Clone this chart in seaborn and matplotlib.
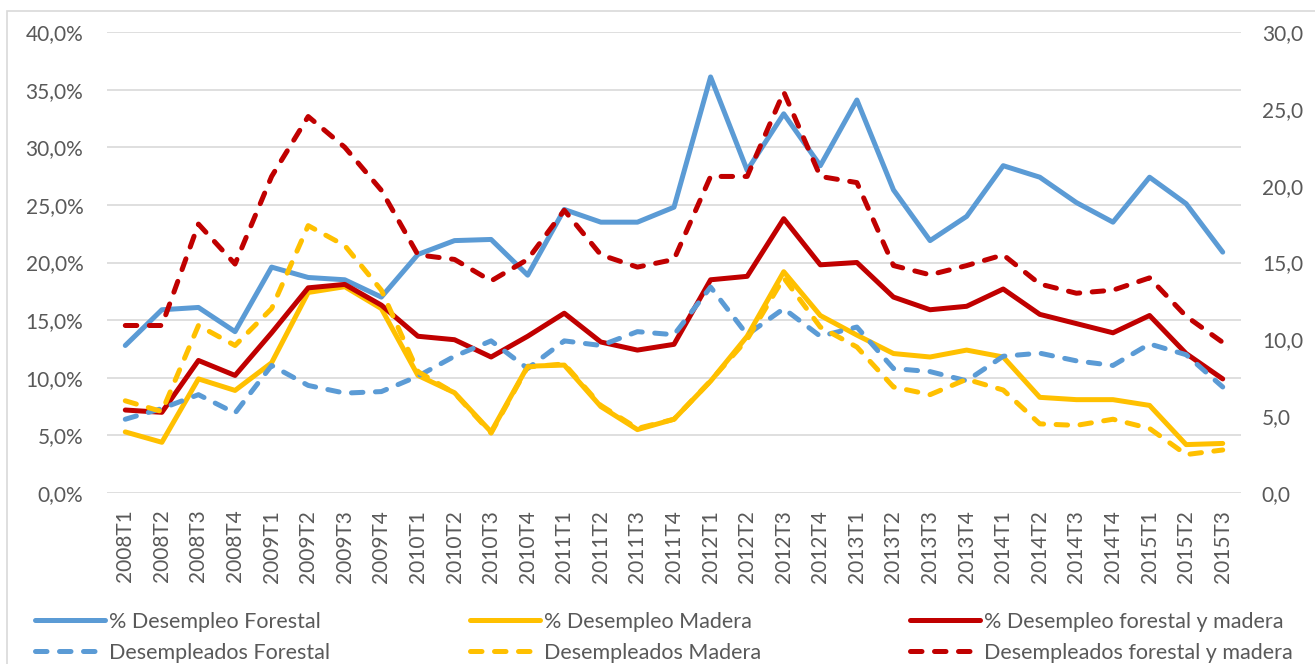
import numpy as np
import pandas as pd
import seaborn as sns
import matplotlib.pyplot as plt
from matplotlib.ticker import FuncFormatter, MultipleLocator
from matplotlib.patches import Rectangle

# periods (quarters)
periodos = [f"{y}T{q}" for y in range(2008, 2016) for q in range(1, 5)][:31]

# % unemployment (left axis)
pct_forestal = [12.8, 15.9, 16.1, 14.0, 19.6, 18.7, 18.5, 17.0, 20.7, 21.9, 22.0,
                18.9, 24.6, 23.5, 23.5, 24.8, 36.1, 28.0, 32.9, 28.4, 34.1,
                26.3, 21.9, 24.0, 28.4, 27.4, 25.2, 23.5, 27.4, 25.1, 20.9]
pct_madera = [5.3, 4.4, 9.9, 8.9, 11.3, 17.4, 17.9, 16.0, 10.2, 8.7, 5.3,
              11.0, 11.1, 7.5, 5.5, 6.4, 9.7, 13.6, 19.2, 15.4, 13.7,
              12.1, 11.8, 12.4, 11.8, 8.3, 8.1, 8.1, 7.6, 4.2, 4.3]
pct_fym = [7.2, 7.0, 11.5, 10.2, 13.9, 17.8, 18.1, 16.3, 13.6, 13.3, 11.8,
           13.6, 15.6, 13.1, 12.4, 12.9, 18.5, 18.8, 23.8, 19.8, 20.0,
           17.0, 15.9, 16.2, 17.7, 15.5, 14.7, 13.9, 15.4, 12.1, 9.9]

# unemployed, thousands (right axis)
des_forestal = [4.8, 5.5, 6.4, 5.2, 8.3, 7.0, 6.5, 6.6, 7.6, 8.9, 9.9,
                8.1, 9.9, 9.6, 10.5, 10.3, 13.4, 10.3, 12.0, 10.2, 10.8,
                8.1, 7.9, 7.3, 8.9, 9.1, 8.6, 8.3, 9.7, 9.0, 6.9]
des_madera = [6.0, 5.3, 10.9, 9.6, 12.0, 17.4, 16.1, 13.2, 7.9, 6.5, 3.9,
              8.2, 8.4, 5.7, 4.2, 4.8, 7.3, 10.0, 14.0, 10.8, 9.5,
              6.9, 6.4, 7.4, 6.7, 4.5, 4.4, 4.8, 4.2, 2.5, 2.8]
des_fym = [10.9, 10.9, 17.5, 14.9, 20.6, 24.5, 22.5, 19.7, 15.5, 15.2, 13.8,
           15.2, 18.4, 15.5, 14.7, 15.2, 20.6, 20.6, 26.1, 20.6, 20.2,
           14.8, 14.2, 14.8, 15.5, 13.6, 13.0, 13.2, 14.0, 11.5, 9.8]

df = pd.DataFrame({
    "periodo": periodos,
    "pct_forestal": pct_forestal, "pct_madera": pct_madera, "pct_fym": pct_fym,
    "des_forestal": des_forestal, "des_madera": des_madera, "des_fym": des_fym,
})

sns.set_theme(style="white")
plt.rcParams['font.family'] = ['Lato', 'DejaVu Sans']

AZUL, AMARILLO, ROJO = "#5B9BD5", "#FFC000", "#C00000"
GRIS_TXT = "#595959"
LW = 3.6
DASH = (0, (2.3, 2.5))
FS_TICK = 15
FS_LEG = 15.5

fig = plt.figure(figsize=(13.15, 6.64), dpi=100)
W, H = 1315, 664
ax = fig.add_axes([107 / W, 1 - 493 / H, (1241 - 107) / W, (493 - 32) / H])
ax2 = ax.twinx()

series_izq = [("pct_forestal", AZUL, "% Desempleo Forestal"),
              ("pct_madera", AMARILLO, "% Desempleo Madera"),
              ("pct_fym", ROJO, "% Desempleo forestal y madera")]
series_der = [("des_forestal", AZUL, "Desempleados Forestal"),
              ("des_madera", AMARILLO, "Desempleados Madera"),
              ("des_fym", ROJO, "Desempleados forestal y madera")]

for col, c, lab in series_izq:
    sns.lineplot(data=df, x="periodo", y=col, ax=ax, color=c, linewidth=LW,
                 label=lab, errorbar=None, legend=False, sort=False)
for col, c, lab in series_der:
    sns.lineplot(data=df, x="periodo", y=col, ax=ax2, color=c, linewidth=LW,
                 label=lab, errorbar=None, legend=False, sort=False,
                 linestyle=DASH, dash_capstyle="round")

# axes styling
ax.set_xlim(-0.5, len(periodos) - 0.5)
ax.set_ylim(0, 40)
ax2.set_ylim(0, 30)
ax.yaxis.set_major_locator(MultipleLocator(5))
ax2.yaxis.set_major_locator(MultipleLocator(5))
ax.yaxis.set_major_formatter(FuncFormatter(lambda v, p: f"{v:.1f}%".replace(".", ",")))
ax2.yaxis.set_major_formatter(FuncFormatter(lambda v, p: f"{v:.1f}".replace(".", ",")))
ax.set_xticks(range(len(periodos)))
ax.set_xticklabels(periodos, rotation=90)
ax.set_xlabel("")
ax.set_ylabel("")
ax2.set_ylabel("")

ax.grid(axis="y", color="#D9D9D9", linewidth=1.2)
ax.grid(axis="x", visible=False)
ax2.grid(False)
ax.set_axisbelow(True)
for a in (ax, ax2):
    for s in a.spines.values():
        s.set_visible(False)
ax.tick_params(axis="y", length=0, pad=17, labelsize=FS_TICK, labelcolor=GRIS_TXT)
ax.tick_params(axis="x", length=0, pad=12, labelsize=FS_TICK, labelcolor=GRIS_TXT)
ax2.tick_params(axis="y", length=0, pad=15, labelsize=FS_TICK, labelcolor=GRIS_TXT)

# legend: three columns, solid row on top, dashed row below
h1, l1 = ax.get_legend_handles_labels()
h2, l2 = ax2.get_legend_handles_labels()
for i, x0 in enumerate([35, 470, 910]):
    fig.legend([h1[i], h2[i]], [l1[i], l2[i]], loc="upper left",
               bbox_to_anchor=(x0 / W, 1 - 612 / H), frameon=False,
               fontsize=FS_LEG, labelcolor=GRIS_TXT, handlelength=3.25,
               handletextpad=0.2, labelspacing=0.5, borderpad=0,
               borderaxespad=0)

# outer chart border
fig.patches.append(Rectangle((7 / W, -0.1), 1.2, 1 - 11 / H + 0.1,
                             transform=fig.transFigure, fill=False,
                             edgecolor="#D9D9D9", linewidth=1.2))

fig.savefig("out.png", dpi=100)
